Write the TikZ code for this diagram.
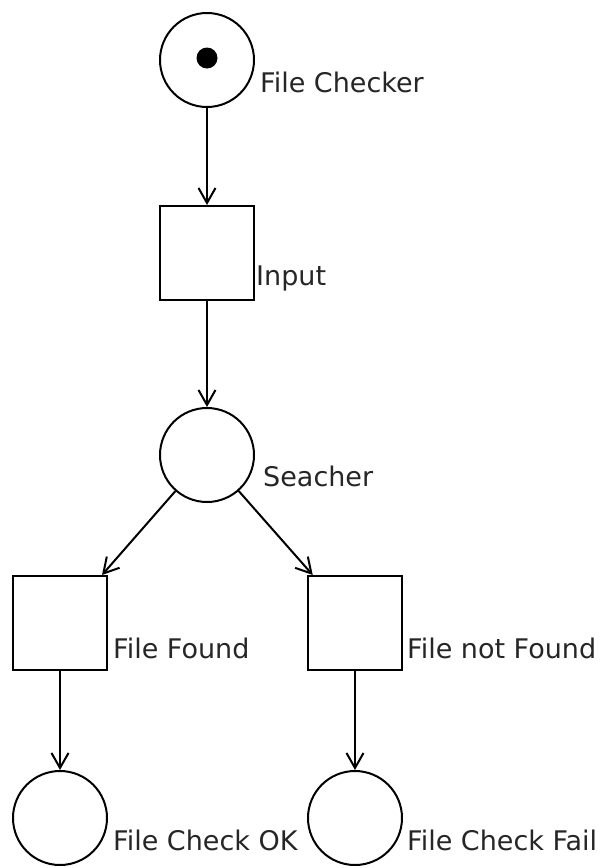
\documentclass[tikz,border=0pt]{standalone}
\usepackage{fontspec}
\setmainfont{DejaVu Sans}
\usetikzlibrary{arrows.meta}
\tikzset{
  place/.style={
    circle,
    draw=black,
    line width=2pt,
    inner sep=0pt,
    minimum size=94pt
  },
  transition/.style={
    rectangle,
    draw=black,
    line width=2pt,
    inner sep=0pt,
    minimum size=94pt
  },
  token/.style={
    circle,
    fill=black,
    inner sep=0pt,
    minimum size=21pt
  },
  arc/.style={
    -{Straight Barb[length=15pt,width=17pt,line width=2pt]},
    line width=2pt
  },
  name label/.style={
    anchor=west,
    inner sep=0pt,
    font=\fontsize{27}{32}\selectfont,
    text=black!85
  }
}

\begin{document}
\begin{tikzpicture}[x=1pt, y=-1pt]
    % 画布 602 x 868
    \useasboundingbox (0,0) rectangle (602,868);

    % 库所与变迁
    \node[place] (checker) at (207,60) {};
    \node[token] (tok) at (207,58) {};
    \node[transition] (input) at (207,253) {};
    \node[place] (searcher) at (207,455) {};
    \node[transition] (found) at (60,623) {};
    \node[transition] (notfound) at (355,623) {};
    \node[place] (ok) at (60,818) {};
    \node[place] (fail) at (355,818) {};

    % 标签
    \node[name label] (checkerlbl) at (260,82) {File Checker};
    \node[name label] (inputlbl) at (256,278) {Input};
    \node[name label] (searcherlbl) at (263,476) {Seacher};
    \node[name label] (foundlbl) at (113,648) {File Found};
    \node[name label] (notfoundlbl) at (407,648) {File not Found};
    \node[name label] (oklbl) at (113,840) {File Check OK};
    \node[name label] (faillbl) at (407,840) {File Check Fail};

    % 弧
    \draw[arc] (checker) -- (input);
    \draw[arc] (input) -- (searcher);
    \draw[arc] (searcher) -- (found);
    \draw[arc] (searcher) -- (notfound);
    \draw[arc] (found) -- (ok);
    \draw[arc] (notfound) -- (fail);

  \end{tikzpicture}
\end{document}
